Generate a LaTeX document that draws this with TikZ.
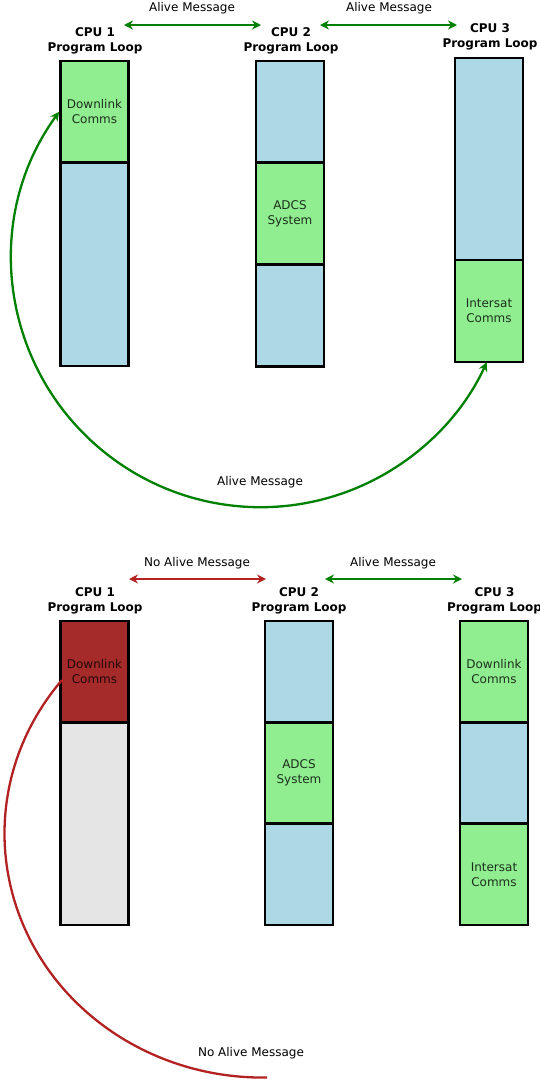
\documentclass[tikz,border=0pt]{standalone}
\usepackage{fontspec}
\setmainfont{DejaVu Sans}
\usetikzlibrary{arrows.meta}
\definecolor{lgreen}{HTML}{90EE90}
\definecolor{lblue}{HTML}{ADD8E6}
\definecolor{dred}{HTML}{A52A2A}
\definecolor{lgray}{HTML}{E5E5E5}
\definecolor{agreen}{HTML}{008000}
\definecolor{ared}{HTML}{B22222}
\begin{document}
\begin{tikzpicture}[x=1pt,y=-1pt,
  font=\fontsize{12}{15}\selectfont,
  seg/.style={draw=black, line width=2.8pt, minimum width=68pt, inner sep=0pt, align=center, text opacity=0.8},
  hdr/.style={font=\fontsize{12}{15}\selectfont\bfseries, align=center, inner sep=0pt},
  msg/.style={inner sep=0pt},
  tipg/.style={draw=agreen, line width=2.3pt, {Stealth[length=9pt,width=9pt]}-{Stealth[length=9pt,width=9pt]}},
  tipr/.style={draw=ared, line width=2.3pt, {Stealth[length=9pt,width=9pt]}-{Stealth[length=9pt,width=9pt]}},
]
\useasboundingbox (0,0) rectangle (540,1080);

% ---------- top scenario ----------
\node[hdr] (h1) at (95,40.75) {CPU 1\\Program Loop};
\node[hdr] (h2) at (291,40.75) {CPU 2\\Program Loop};
\node[hdr] (h3) at (490,36.75) {CPU 3\\Program Loop};

\node[msg] (m1) at (192,8.2) {Alive Message};
\node[msg] (m2) at (389,8.2) {Alive Message};
\coordinate (m1a) at (124,25); \coordinate (m1b) at (261,25);
\coordinate (m2a) at (320,25); \coordinate (m2b) at (457,25);
\draw[tipg] (m1a) -- (m1b);
\draw[tipg] (m2a) -- (m2b);

% CPU 1
\node[seg, fill=lblue, minimum height=203.3pt] (a1b) at (94.5,264.35) {};
\node[seg, fill=lgreen, minimum height=101.7pt] (a1a) at (94.5,111.85) {Downlink\\Comms};
% CPU 2
\node[seg, fill=lblue, minimum height=101.7pt] (a2a) at (290,111.85) {};
\node[seg, fill=lblue, minimum height=101.7pt] (a2c) at (290,315.25) {};
\node[seg, fill=lgreen, minimum height=101.7pt] (a2b) at (290,213.55) {ADCS\\System};
% CPU 3
\node[seg, fill=lblue, minimum height=202pt] (a3a) at (489,159) {};
\node[seg, fill=lgreen, minimum height=102pt] (a3b) at (489,311) {Intersat\\Comms};

\draw[tipg] (a1a.west) arc[start angle=144, end angle=335.3, radius=249pt];
\node[msg] (m3) at (260,482) {Alive Message};

% ---------- bottom scenario ----------
\node[hdr] (k1) at (95,600.75) {CPU 1\\Program Loop};
\node[hdr] (k2) at (299,600.75) {CPU 2\\Program Loop};
\node[hdr] (k3) at (494.5,600.75) {CPU 3\\Program Loop};

\node[msg] (n1) at (197,563) {No Alive Message};
\node[msg] (n2) at (393,563) {Alive Message};
\coordinate (n1a) at (129,579); \coordinate (n1b) at (266,579);
\coordinate (n2a) at (325,579); \coordinate (n2b) at (462,579);
\draw[tipr] (n1a) -- (n1b);
\draw[tipg] (n2a) -- (n2b);

% CPU 1
\node[seg, fill=lgray, minimum height=202.7pt] (b1b) at (94.5,823.67) {};
\node[seg, fill=dred, minimum height=101.33pt] (b1a) at (94.5,671.67) {Downlink\\Comms};
% CPU 2
\node[seg, fill=lblue, minimum height=101.33pt] (b2a) at (299,671.67) {};
\node[seg, fill=lblue, minimum height=101.33pt] (b2c) at (299,874.33) {};
\node[seg, fill=lgreen, minimum height=101.33pt] (b2b) at (299,773) {ADCS\\System};
% CPU 3
\node[seg, fill=lblue, minimum height=101.33pt] (b3b) at (494,773) {};
\node[seg, fill=lgreen, minimum height=101.33pt] (b3a) at (494,671.67) {Downlink\\Comms};
\node[seg, fill=lgreen, minimum height=101.33pt] (b3c) at (494,874.33) {Intersat\\Comms};

\coordinate (rs) at (62,680);
\draw[draw=ared, line width=2.3pt] (rs) arc[start angle=141, end angle=271, x radius=258pt, y radius=244pt];
\node[msg] (n3) at (251,1053) {No Alive Message};
\end{tikzpicture}
\end{document}
